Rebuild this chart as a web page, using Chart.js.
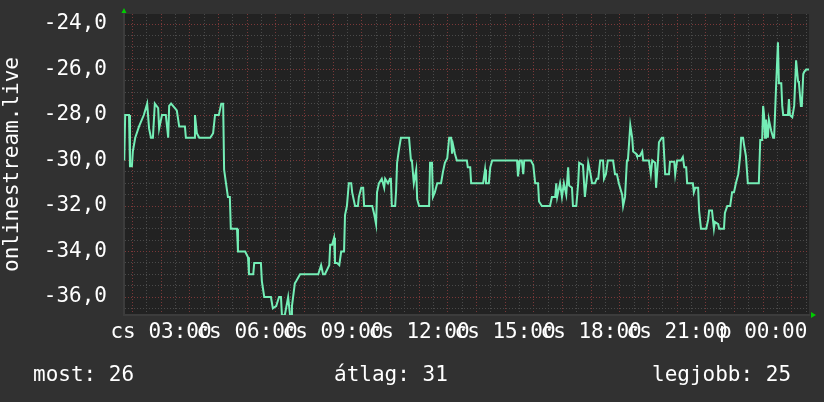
<!DOCTYPE html>
<html>
<head>
<meta charset="utf-8">
<script src="https://cdn.jsdelivr.net/npm/chart.js@4.4.1/dist/chart.umd.min.js"></script>
<style>
  html, body { margin: 0; padding: 0; background: #313131; }
  canvas { display: block; }
</style>
</head>
<body>
<canvas id="chart" width="824" height="402"></canvas>
<script>
// Időpontok (perc csütörtök 00:00-tól) és mért értékek
const idopontok = [103,105,113,115,119,121,126,134,144,151,155,159,163,167,174,176,182,190,195,197,
  201,209,213,218,230,232,249,251,255,260,283,289,293,301,306,310,312,316,320,324,
  326,339,341,356,362,364,373,375,389,391,396,410,414,421,427,431,433,439,446,450,
  452,454,460,463,471,509,515,519,523,532,534,538,542,544,548,553,557,563,565,569,
  573,578,580,586,592,594,599,603,605,622,626,630,632,636,642,647,649,655,659,661,
  663,670,672,674,678,682,699,703,705,709,714,716,720,741,743,747,749,753,758,766,
  770,774,779,783,787,789,791,795,799,820,822,827,829,854,858,860,866,869,873,925,
  927,931,935,938,940,954,959,963,969,971,977,994,998,1005,1007,1009,1015,1019,1023,1028,
  1032,1034,1040,1042,1049,1053,1055,1063,1067,1072,1074,1078,1082,1088,1092,1095,1099,1105,1107,1111,
  1113,1115,1126,1130,1134,1138,1145,1147,1151,1155,1157,1162,1166,1168,1174,1176,1182,1187,1189,1201,
  1205,1208,1214,1216,1220,1222,1228,1231,1235,1243,1245,1254,1256,1260,1268,1272,1275,1279,1281,1293,
  1295,1298,1304,1306,1310,1321,1325,1327,1333,1337,1339,1346,1348,1358,1360,1365,1371,1375,1379,1383,
  1388,1392,1394,1398,1400,1404,1408,1431,1434,1438,1440,1442,1444,1446,1450,1452,1457,1461,1463,1467,
  1471,1473,1478,1480,1482,1492,1494,1496,1501,1505,1509,1513,1515,1519,1521,1524,1526,1530,1536];

const ertekek = [-30.0,-28.0,-28.0,-30.25,-30.25,-29.6,-29.0,-28.5,-28.0,-27.5,-28.6,-29.0,-29.0,-27.5,-27.7,-28.6,-28.0,-28.0,-29.0,-27.6,
  -27.5,-27.7,-27.8,-28.5,-28.5,-29.0,-29.0,-28.0,-28.8,-29.0,-29.0,-28.8,-28.0,-28.0,-27.5,-27.5,-30.4,-31.0,-31.6,-31.6,
  -33.0,-33.0,-34.0,-34.0,-34.25,-35.0,-35.0,-34.5,-34.5,-35.3,-36.0,-36.0,-36.5,-36.4,-36.0,-36.0,-36.8,-36.8,-36.0,-36.8,
  -36.8,-36.4,-35.4,-35.3,-35.0,-35.0,-34.6,-35.0,-35.0,-34.6,-33.7,-33.7,-33.4,-34.5,-34.5,-34.6,-34.0,-34.0,-32.4,-32.0,
  -31.0,-31.0,-31.4,-32.0,-32.0,-31.6,-31.2,-31.2,-32.0,-32.0,-32.35,-32.8,-31.4,-31.0,-30.8,-31.2,-30.8,-31.0,-30.8,-30.8,
  -32.0,-32.0,-31.3,-30.1,-29.5,-29.0,-29.0,-30.0,-30.0,-31.0,-30.4,-31.7,-32.0,-32.0,-30.1,-30.1,-31.6,-31.4,-31.0,-31.0,
  -30.5,-30.1,-29.9,-29.0,-29.0,-29.7,-29.3,-29.7,-30.0,-30.0,-30.3,-30.3,-31.0,-31.0,-30.4,-31.0,-31.0,-30.3,-30.0,-30.0,
  -30.7,-30.0,-30.0,-30.6,-30.0,-30.0,-30.2,-31.0,-31.0,-31.8,-32.0,-32.0,-31.6,-31.6,-31.0,-31.6,-31.0,-31.6,-31.0,-31.5,
  -30.3,-31.1,-31.2,-32.0,-32.0,-31.0,-30.1,-30.2,-31.6,-30.6,-30.1,-30.5,-31.0,-31.0,-30.8,-30.8,-30.0,-30.0,-30.8,-30.6,
  -30.3,-30.0,-30.0,-30.6,-30.6,-31.0,-31.5,-32.0,-31.6,-30.0,-30.0,-28.45,-29.0,-29.6,-29.7,-29.8,-29.8,-29.6,-30.0,-30.0,
  -30.6,-30.0,-30.1,-31.2,-30.0,-29.2,-29.0,-29.0,-30.6,-30.6,-30.05,-30.05,-30.6,-30.0,-30.0,-29.85,-30.3,-30.3,-31.0,-31.0,
  -31.4,-31.2,-31.2,-32.2,-33.0,-33.0,-32.6,-32.2,-32.2,-33.0,-32.7,-32.8,-33.0,-33.0,-32.3,-32.0,-32.0,-31.4,-31.4,-31.0,
  -30.6,-29.8,-29.0,-29.0,-29.3,-29.8,-31.0,-31.0,-29.1,-29.1,-27.6,-28.0,-29.0,-28.2,-29.0,-28.2,-28.7,-29.0,-29.0,-26.8,
  -24.8,-26.6,-26.6,-27.6,-28.0,-28.0,-27.3,-28.0,-28.1,-27.6,-25.6,-26.5,-26.6,-27.6,-27.6,-26.2,-26.1,-26.0,-26.0];

// Tengelyfeliratok
const idoTickek = [180, 360, 540, 720, 900, 1080, 1260, 1440];
const idoCimkek = ['cs 03:00', 'cs 06:00', 'cs 09:00', 'cs 12:00', 'cs 15:00', 'cs 18:00', 'cs 21:00', 'p 00:00'];
const yTickek = [-36, -34, -32, -30, -28, -26, -24];
const yCimkek = ['-36,0', '-34,0', '-32,0', '-30,0', '-28,0', '-26,0', '-24,0'];

// Összesítő sor
const osszCimkek = ['most', 'átlag', 'legjobb'];
const osszErtekek = [26, 31, 25];

const pontok = idopontok.map((t, i) => ({ x: t, y: ertekek[i] }));
const betu = '"DejaVu Sans Mono", monospace';

const hatter = {
  id: 'hatter',
  beforeDraw(chart) {
    const { ctx, chartArea: a } = chart;
    ctx.save();
    ctx.fillStyle = '#313131';
    ctx.fillRect(0, 0, chart.width, chart.height);
    ctx.fillStyle = '#222222';
    ctx.fillRect(a.left, a.top, a.right - a.left, a.bottom - a.top);
    ctx.restore();
  },
  afterDraw(chart) {
    const { ctx, chartArea: a } = chart;
    ctx.save();
    // zöld nyilak a tengelyek végén
    ctx.fillStyle = '#00cc00';
    ctx.beginPath();
    ctx.moveTo(a.left - 2.5, a.top - 1);
    ctx.lineTo(a.left + 2.5, a.top - 1);
    ctx.lineTo(a.left, a.top - 6);
    ctx.fill();
    ctx.beginPath();
    ctx.moveTo(a.right + 2, a.bottom - 3);
    ctx.lineTo(a.right + 2, a.bottom + 3);
    ctx.lineTo(a.right + 7, a.bottom);
    ctx.fill();
    // összesítés
    ctx.fillStyle = '#ffffff';
    ctx.font = '21px ' + betu;
    ctx.textBaseline = 'alphabetic';
    const xek = [33, 334, 652];
    osszCimkek.forEach((c, i) => ctx.fillText(c + ': ' + osszErtekek[i], xek[i], 381));
    ctx.restore();
  }
};

new Chart(document.getElementById('chart'), {
  type: 'line',
  data: {
    datasets: [{
      data: pontok,
      borderColor: '#74eeb6',
      borderWidth: 2,
      pointRadius: 0,
      fill: false,
      tension: 0
    }]
  },
  options: {
    responsive: false,
    animation: false,
    devicePixelRatio: 1,
    layout: { padding: { left: 0, right: 15, top: 14, bottom: 47 } },
    plugins: { legend: { display: false }, tooltip: { enabled: false } },
    scales: {
      x: {
        type: 'linear',
        min: 102.5,
        max: 1536,
        afterFit(s) { s.height = 40; s.paddingLeft = 0; s.paddingRight = 0; },
        afterBuildTicks(s) {
          const t = [];
          for (let v = 120; v <= 1530; v += 30) t.push({ value: v });
          s.ticks = t;
        },
        grid: {
          drawTicks: false,
          color: c => (c.tick && c.tick.value % 60 === 0) ? '#7a3838' : '#4a4a4a'
        },
        border: { color: '#3c3c3c', width: 2, dash: [1, 2] },
        ticks: {
          autoSkip: false,
          maxRotation: 0,
          minRotation: 0,
          padding: 5,
          color: '#ffffff',
          font: { family: betu, size: 21 },
          callback: v => { const i = idoTickek.indexOf(v); return i >= 0 ? idoCimkek[i] : ''; }
        }
      },
      y: {
        min: -36.79,
        max: -23.56,
        afterFit(s) { s.width = 124; s.paddingTop = 0; s.paddingBottom = 0; },
        afterBuildTicks(s) {
          const t = [];
          for (let v = -36.5; v <= -24; v += 0.5) t.push({ value: v });
          s.ticks = t;
        },
        grid: {
          drawTicks: false,
          color: c => (c.tick && yTickek.includes(c.tick.value)) ? '#7a3838' : '#4a4a4a'
        },
        border: { color: '#3c3c3c', width: 2, dash: [1, 2] },
        title: {
          display: true,
          text: 'onlinestream.live',
          color: '#ffffff',
          font: { family: betu, size: 21 },
          padding: { top: 0, bottom: 0 }
        },
        ticks: {
          autoSkip: false,
          padding: 17,
          color: '#ffffff',
          font: { family: betu, size: 21 },
          callback: v => { const i = yTickek.indexOf(v); return i >= 0 ? yCimkek[i] : ''; }
        }
      }
    }
  },
  plugins: [hatter]
});
</script>
</body>
</html>
